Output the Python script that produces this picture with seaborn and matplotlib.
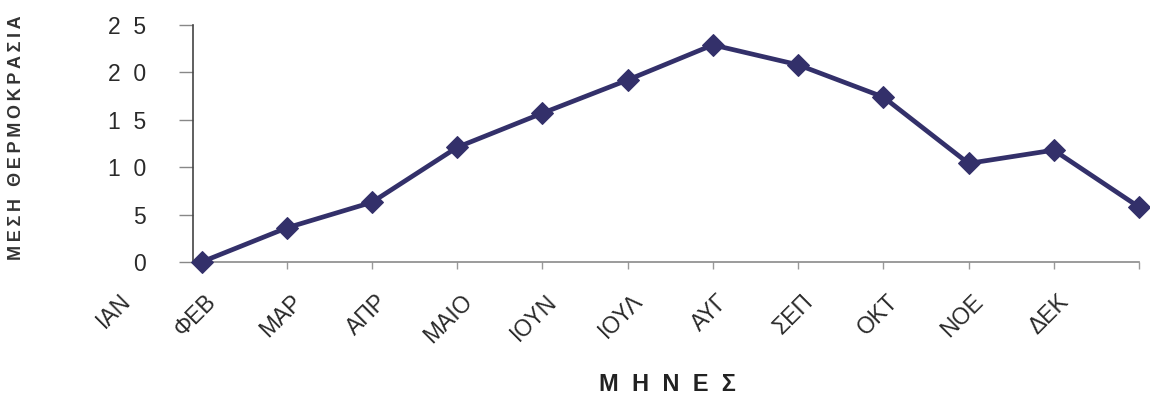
import numpy as np
import pandas as pd
import matplotlib
matplotlib.use("Agg")
import matplotlib.pyplot as plt
import matplotlib.transforms as mtransforms
import seaborn as sns

# ---- data ----
months = ["ΙΑΝ", "ΦΕΒ", "ΜΑΡ", "ΑΠΡ", "ΜΑΙΟ", "ΙΟΥΝ", "ΙΟΥΛ", "ΑΥΓ", "ΣΕΠ", "ΟΚΤ", "ΝΟΕ", "ΔΕΚ"]
temps = [0.0, 3.6, 6.3, 12.1, 15.7, 19.2, 22.9, 20.8, 17.4, 10.4, 11.8, 5.8]
y_ticks = [0, 5, 10, 15, 20, 25]
x_title = "Μ  Η  Ν  Ε  Σ"
y_title = "ΜΕΣΗ ΘΕΡΜΟΚΡΑΣΙΑ"

sns.set_style("white")
plt.rcParams["font.family"] = ["Liberation Sans", "DejaVu Sans"]

df = pd.DataFrame({"pos": np.arange(len(months)), "temp": temps})

fig = plt.figure(figsize=(11.5, 3.97), dpi=100)
ax = fig.add_axes([193 / 1150, 1 - 262 / 397, 946 / 1150, 237 / 397])

line_color = "#33306a"
sns.lineplot(data=df, x="pos", y="temp", ax=ax, color=line_color, linewidth=3.4,
             marker="D", markersize=11, markeredgecolor=line_color,
             markerfacecolor=line_color, clip_on=False, zorder=5)

# y axis
ax.set_yticks(y_ticks)
ax.set_yticklabels(["  ".join(str(v)) for v in y_ticks])
ax.tick_params(axis="y", which="major", direction="out", length=10, width=1,
               color="#888888", pad=24, labelsize=16.5, labelcolor="#2a2a2a", left=True)

# x axis: tick marks at points, labels shifted left of their point
ax.set_xticks(np.arange(len(months)))
ax.set_xticklabels(months, rotation=45, ha="right", va="top",
                   rotation_mode="anchor", fontsize=16.5, color="#2a2a2a")
ax.tick_params(axis="x", which="major", direction="out", length=5, width=1,
               color="#999999", bottom=True, pad=15)
ax.xaxis.get_major_ticks()[0].tick1line.set_visible(False)
shift = mtransforms.ScaledTranslation(-0.82, 0, fig.dpi_scale_trans)
for lab in ax.get_xticklabels():
    lab.set_transform(lab.get_transform() + shift)

ax.set_xlim(-0.1, 11)
ax.set_ylim(0, 25)

for s in ["top", "right"]:
    ax.spines[s].set_visible(False)
ax.spines["left"].set_color("#444444")
ax.spines["left"].set_linewidth(1.2)
ax.spines["bottom"].set_color("#8a8a8a")
ax.spines["bottom"].set_linewidth(1.2)

ax.set_xlabel(x_title, fontsize=17, fontweight="bold", color="#222222")
ax.xaxis.set_label_coords(0.5016, -0.47)
ax.set_ylabel("\u2009".join(y_title), fontsize=13, fontweight="bold", color="#333333")
ax.yaxis.set_label_coords(-0.178, 0.525)

fig.savefig("out.png", dpi=100)
